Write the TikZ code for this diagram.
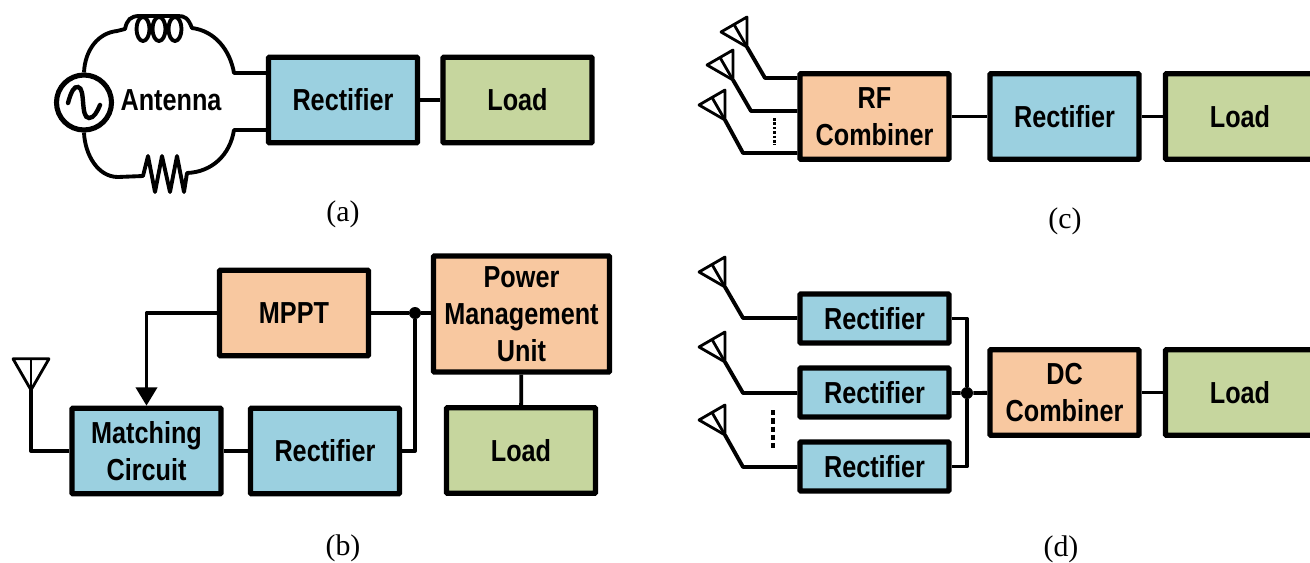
\documentclass[tikz,border=0pt]{standalone}
\usepackage{fontspec}
\setmainfont{Liberation Serif}
\setsansfont{Liberation Sans}[FakeStretch=0.83]
\usetikzlibrary{arrows.meta,positioning,calc}
\tikzset{
    block/.style={draw=black, line width=2.9pt, rounded corners=0.4pt, minimum width=2.98cm, minimum height=1.71cm, align=center, inner sep=0pt, font=\sffamily\bfseries\fontsize{17.3}{21}\selectfont},
    wire/.style={line width=2.2pt, line join=round},
    dots/.style={line width=1.7pt, dash pattern=on 1.5pt off 1pt},
    longdots/.style={line width=2pt, dash pattern=on 3pt off 1.7pt},
    caption/.style={font=\rmfamily\fontsize{17}{20}\selectfont, inner sep=0pt},
    junction/.style={circle, fill=black, inner sep=0pt, minimum size=0.24cm},
    antenna/.pic={
        \draw[line width=1.6pt, line join=round] (0,0) -- (15,-26) -- (-15,-26) -- cycle;
        \draw[line width=1.6pt] (0,0) -- (0,-26);
    }
}
\begin{document}
\begin{tikzpicture}[x=0.02cm, y=-0.02cm]
    % Colours of the blocks
    \definecolor{rectblue}{RGB}{155,208,224}
    \definecolor{mgmtorange}{RGB}{248,200,160}
    \definecolor{loadgreen}{RGB}{198,214,158}

    \clip (0,0) rectangle (1310,562);

    % (a) Antenna equivalent circuit
    \node[block, fill=rectblue] (recta) at (343,100) {Rectifier};
    \node[block, fill=loadgreen] (loada) at (517.5,100) {Load};
    \node[circle, draw, line width=2.9pt, minimum size=1.1cm, inner sep=0pt] (source) at (84,102.5) {};
    \node[font=\sffamily\bfseries\fontsize{17.3}{21}\selectfont, inner sep=0pt] (antlabel) at (171,100) {Antenna};
    \coordinate (topright) at (234,73);
    \coordinate (botright) at (234,130);
    \draw[wire] (recta.west |- topright) -- (topright) .. controls (230,50) and (215,31) .. (192,28)
        .. controls (188,18) and (185,16) .. (178,16) -- (140,16) .. controls (130,16) and (127,20) .. (125,29)
        -- (117,31) .. controls (98,33) and (85,50) .. (source.north);
    \foreach \cx in {143,159,175} {
        \draw[wire] (\cx,29) ellipse (6.5 and 12);
    }
    \draw[wire] (source.south) .. controls (85,155) and (98,177) .. (118,177) -- (143,176)
        -- (148,156) -- (155,192) -- (162,156) -- (170,192) -- (177,156) -- (184,192) -- (187,173)
        .. controls (212,172) and (230,155) .. (botright) -- (recta.west |- botright);
    \draw[line width=2.5pt, line cap=round] (68,103) .. controls (71,92) and (74,86) .. (78,87)
        .. controls (86,88) and (80,118) .. (89,118) .. controls (94,118) and (97,112) .. (100,105);
    \draw[wire] (recta) -- (loada);
    \node[caption] (capa) at (343,214) {(a)};

    % (b) MPPT tracking
    \node[block, fill=mgmtorange] (mppt) at (294,313) {MPPT};
    \node[block, fill=mgmtorange, minimum width=3.52cm, minimum height=2.32cm] (pmu) at (521.5,314) {Power\\Management\\Unit};
    \node[block, fill=rectblue] (match) at (146.5,451) {Matching\\Circuit};
    \node[block, fill=rectblue] (rectb) at (325,451) {Rectifier};
    \node[block, fill=loadgreen] (loadb) at (521,450.5) {Load};
    \node[junction] (dotb) at (415,313) {};
    \coordinate (antb) at (31,390);
    \pic[scale=1.2] at (antb) {antenna};
    \draw[wire] (antb) |- (match.west);
    \draw[wire, -{Triangle[width=12pt,length=10.5pt]}] (mppt.west) -| (match.north);
    \draw[wire] (mppt.east) -- (dotb) -- (pmu.west |- dotb);
    \draw[wire] (match) -- (rectb);
    \draw[wire] (rectb.east) -| (dotb);
    \draw[wire] (pmu) -- (loadb);
    \node[caption] (capb) at (343,548) {(b)};

    % (c) RF combining
    \node[block, fill=mgmtorange] (rfcomb) at (874.5,116.5) {RF\\Combiner};
    \node[block, fill=rectblue] (rectc) at (1064.5,116.5) {Rectifier};
    \node[block, fill=loadgreen] (loadc) at (1240,116.5) {Load};
    \foreach \name/\ax/\ay/\bx/\by in {c1/747/47/765/78, c2/733/80/751/111, c3/725/120/743/153} {
        \coordinate (ant\name) at (\ax,\ay);
        \coordinate (bend\name) at (\bx,\by);
        \pic[rotate=30] at (ant\name) {antenna};
        \draw[wire] (ant\name) -- (bend\name) -- (bend\name -| rfcomb.west);
    }
    \coordinate (dotsctop) at (774,118);
    \coordinate (dotscbot) at (774,145);
    \draw[dots] (dotsctop) -- (dotscbot);
    \draw[wire] (rfcomb) -- (rectc);
    \draw[wire] (rectc) -- (loadc);
    \node[caption] (capc) at (1065,221) {(c)};

    % (d) DC combining
    \node[block, fill=rectblue, minimum height=0.98cm] (rectd1) at (874.5,318.5) {Rectifier};
    \node[block, fill=rectblue, minimum height=0.98cm] (rectd2) at (874.5,392.5) {Rectifier};
    \node[block, fill=rectblue, minimum height=0.98cm] (rectd3) at (874.5,466.5) {Rectifier};
    \node[block, fill=mgmtorange] (dccomb) at (1064.5,392.5) {DC\\Combiner};
    \node[block, fill=loadgreen] (loadd) at (1240,392.5) {Load};
    \node[junction] (dotd) at (967,393) {};
    \foreach \name/\ay/\by in {1/287/318, 2/362/393, 3/435/467} {
        \coordinate (antd\name) at (725,\ay);
        \coordinate (bendd\name) at (743,\by);
        \pic[rotate=30] at (antd\name) {antenna};
        \draw[wire] (antd\name) -- (bendd\name) -- (bendd\name -| rectd\name.west);
    }
    \coordinate (dotsdtop) at (773,410);
    \coordinate (dotsdbot) at (773,449);
    \draw[longdots] (dotsdtop) -- (dotsdbot);
    \draw[wire] (rectd1.east) -| (dotd);
    \draw[wire] (rectd3.east) -| (dotd);
    \draw[wire] (rectd2) -- (dotd) -- (dccomb);
    \draw[wire] (dccomb) -- (loadd);
    \node[caption] (capd) at (1061,549) {(d)};
\end{tikzpicture}
\end{document}
